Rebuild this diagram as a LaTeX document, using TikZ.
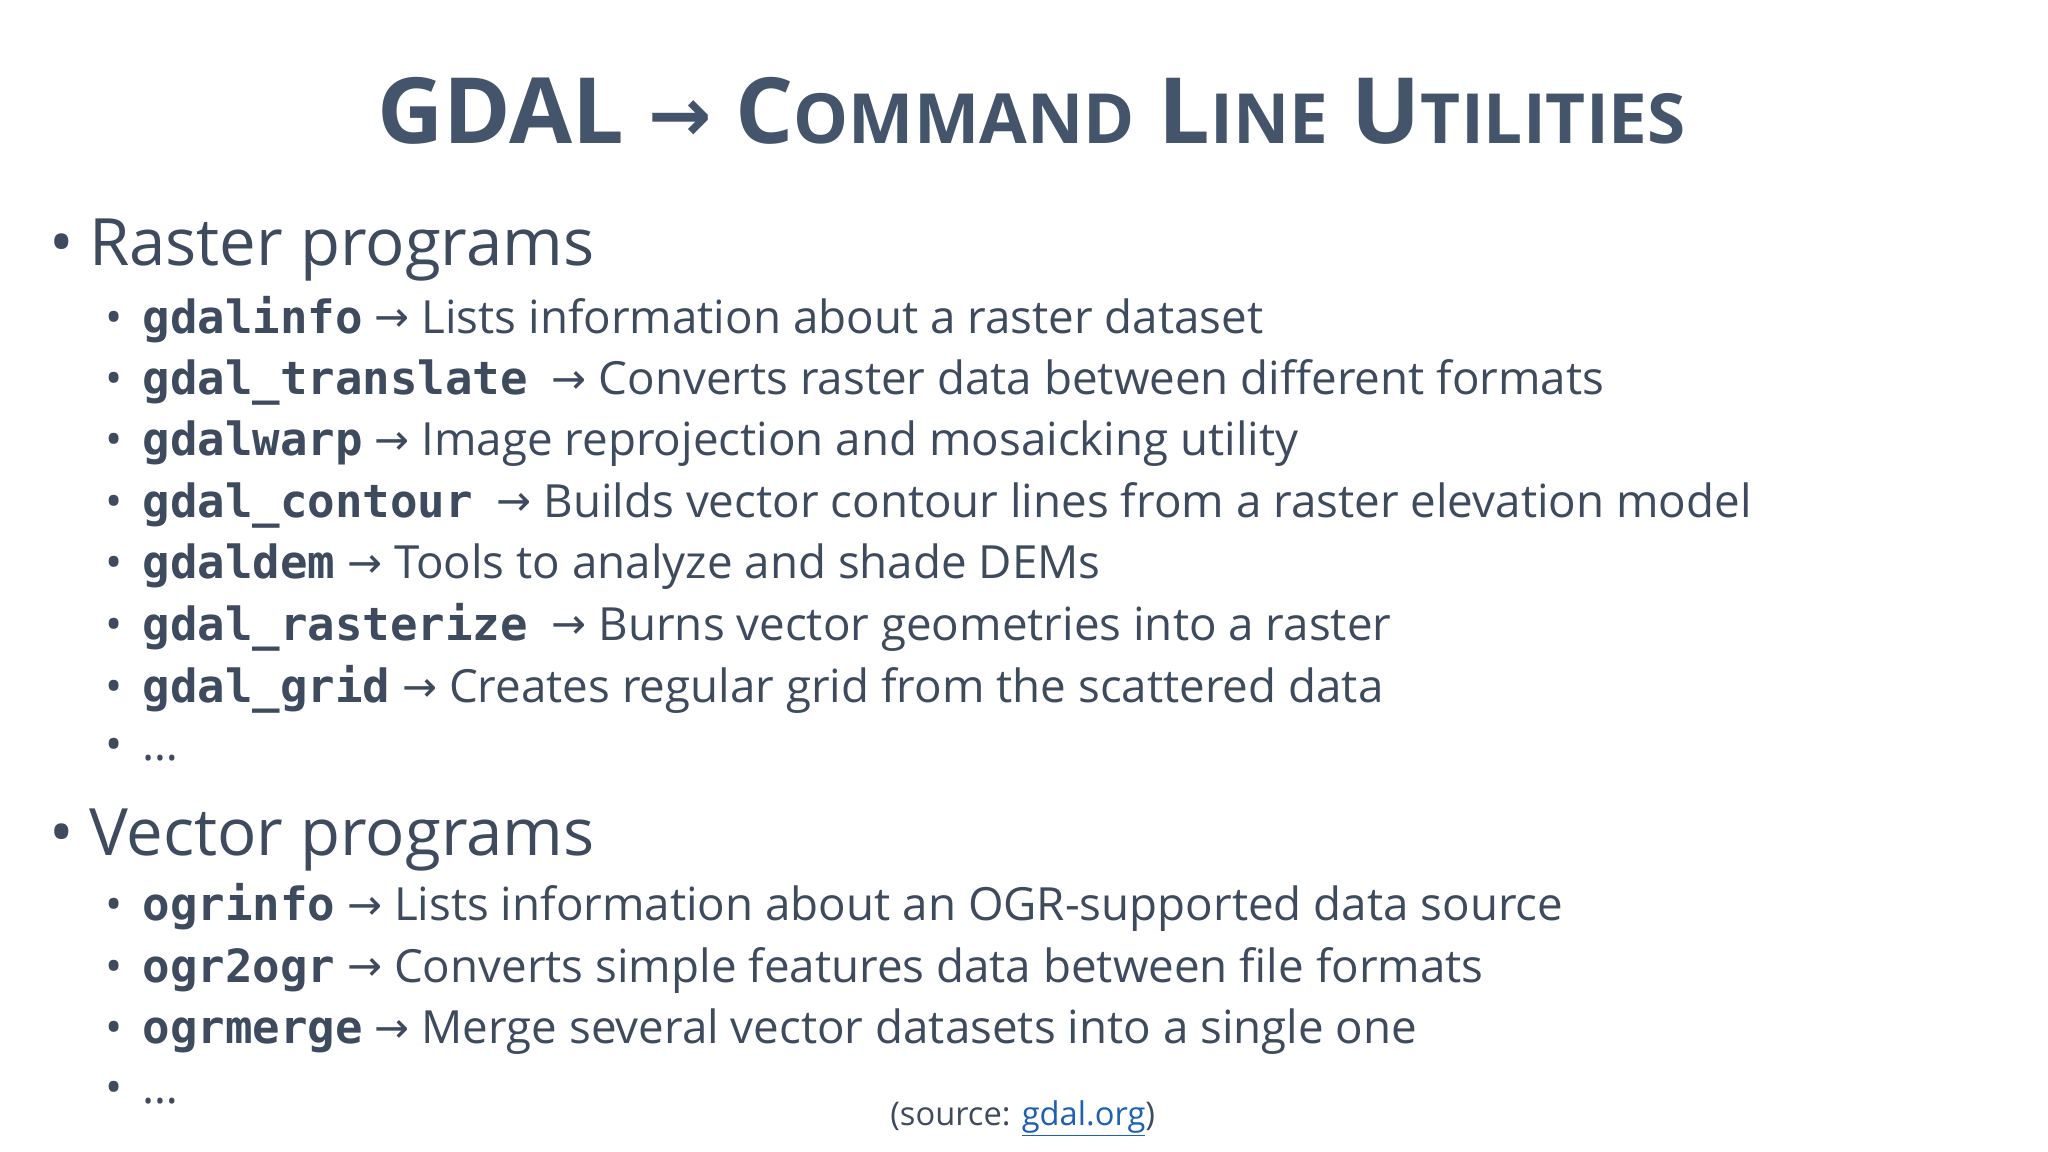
\documentclass[tikz,border=0pt]{standalone}
\usepackage{fontspec}
\setmainfont{Open Sans}
\newfontfamily\monob{DejaVu Sans Mono}
\newfontfamily\arr{DejaVu Sans}
\definecolor{txt}{HTML}{3E4B5E}
\definecolor{ttl}{HTML}{44546A}
\definecolor{lnk}{HTML}{1F5FB4}
\tikzset{
  lv1/.style={anchor=base west,inner sep=0pt,text=txt,font=\fontsize{50}{60}\selectfont},
  lv2/.style={anchor=base west,inner sep=0pt,text=txt,font=\fontsize{35}{42}\selectfont},
  bul/.style={anchor=base,inner sep=0pt,text=txt},
}
\newcommand{\cmd}[1]{{\monob\bfseries #1}}
\newcommand{\ar}{{\arr\fontsize{32}{38}\selectfont\raisebox{1pt}{→}}}
\newcommand{\scx}[2]{#1{\fontsize{53}{60}\selectfont #2}}
\begin{document}
\begin{tikzpicture}[x=1pt,y=-1pt]
\useasboundingbox[fill=white] (0,0) rectangle (1568,882);
\node[anchor=base,inner sep=0pt,text=ttl,font=\fontsize{70}{80}\selectfont\bfseries] (title) at (790,110)
 {GDAL {\arr\fontsize{58}{60}\selectfont\raisebox{2pt}{→}} \scx{C}{OMMAND} \scx{L}{INE} \scx{U}{TILITIES}};
% level 1
\node[bul,font=\fontsize{50}{60}\selectfont] (b1) at (47,203) {•};
\node[lv1] (r) at (68,203) {Raster programs};
\node[bul,font=\fontsize{50}{60}\selectfont] (b2) at (47,655) {•};
\node[lv1] (v) at (68,655) {Vector programs};
% level 2
\foreach \n/\y/\t in {
 r1/255/{\cmd{gdalinfo} \ar{} Lists information about a raster dataset},
 r2/302/{\cmd{gdal\_translate}\ \ \ar{} Converts raster data between different formats},
 r3/349/{\cmd{gdalwarp} \ar{} Image reprojection and mosaicking utility},
 r4/396/{\cmd{gdal\_contour}\ \ \ar{} Builds vector contour lines from a raster elevation model},
 r5/443/{\cmd{gdaldem} \ar{} Tools to analyze and shade DEMs},
 r6/490/{\cmd{gdal\_rasterize}\ \ \ar{} Burns vector geometries into a raster},
 r7/538/{\cmd{gdal\_grid} \ar{} Creates regular grid from the scattered data},
 r8/582/{…},
 v1/705/{\cmd{ogrinfo} \ar{} Lists information about an OGR-supported data source},
 v2/752/{\cmd{ogr2ogr} \ar{} Converts simple features data between file formats},
 v3/799/{\cmd{ogrmerge} \ar{} Merge several vector datasets into a single one},
 v4/845/{…}}{
  \node[bul,font=\fontsize{35}{42}\selectfont] (d\n) at (87,\y) {•};
  \node[lv2] (\n) at (109,\y) {\t};
}
\node[anchor=base,inner sep=0pt,text=txt,font=\fontsize{25}{30}\selectfont] (src) at (783,862)
 {(source: {\color{lnk}\underline{gdal.org}})};
\end{tikzpicture}
\end{document}
